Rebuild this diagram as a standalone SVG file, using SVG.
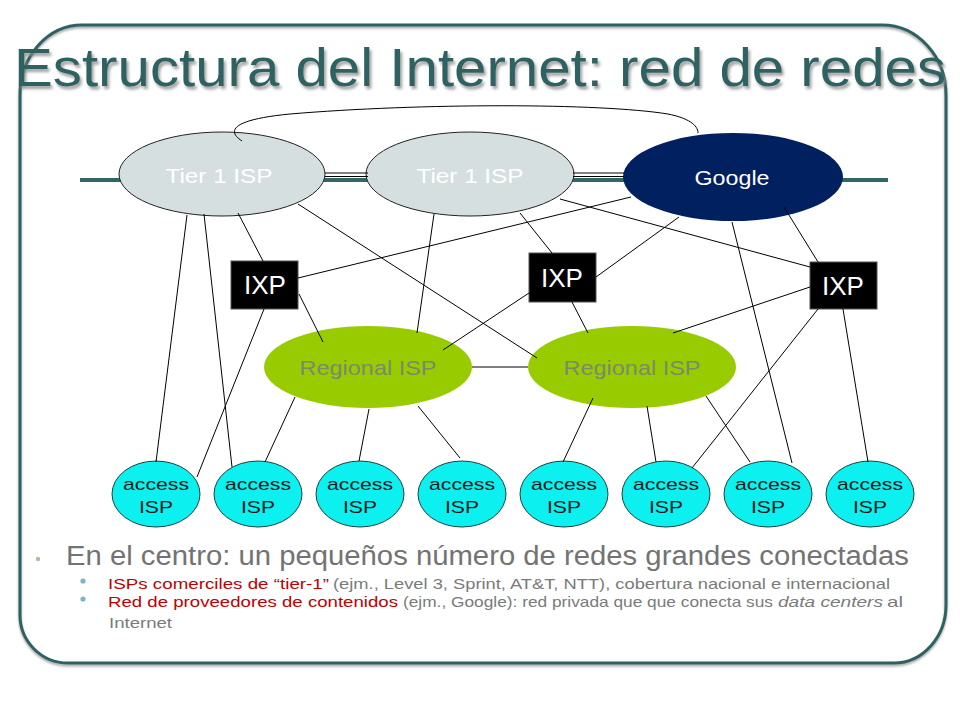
<svg xmlns="http://www.w3.org/2000/svg" width="960" height="720" viewBox="0 0 960 720">
<defs>
<filter id="tsh" x="-5%" y="-20%" width="110%" height="150%">
<feGaussianBlur in="SourceAlpha" stdDeviation="1.6"/>
<feOffset dx="2" dy="3" result="b"/>
<feFlood flood-color="#888888" flood-opacity="0.8"/>
<feComposite in2="b" operator="in"/>
<feMerge><feMergeNode/><feMergeNode in="SourceGraphic"/></feMerge>
</filter>
<filter id="fsh" x="-5%" y="-5%" width="110%" height="110%">
<feGaussianBlur in="SourceAlpha" stdDeviation="1"/>
<feOffset dx="0" dy="2" result="b"/>
<feFlood flood-color="#555" flood-opacity="0.5"/>
<feComposite in2="b" operator="in"/>
<feMerge><feMergeNode/><feMergeNode in="SourceGraphic"/></feMerge>
</filter>
</defs>
<style>
text{font-family:"Liberation Sans",Arial,sans-serif}
.ln{stroke:#000;stroke-width:1;fill:none}
.tier{fill:#D6DFE0;stroke:#222;stroke-width:1}
.tt{fill:#fff;font-size:20px;text-anchor:middle}
.ixp{fill:#000;stroke:#555;stroke-width:1}
.ixt{fill:#fff;font-size:26px;text-anchor:middle}
.reg{fill:#99CC00}
.rt{fill:#7A8A6A;font-size:21px;text-anchor:middle}
.acc{fill:#0DF0F0;stroke:#1E4040;stroke-width:1}
.at{fill:#1A1A1A;font-size:17px;text-anchor:middle}
.red{fill:#C00000;font-size:15px}
.gr{fill:#7A7A7A;font-size:15px}
</style>
<rect width="960" height="720" fill="#fff"/>
<g id="frame" filter="url(#fsh)">
<path d="M 82 25 H 882 A 64 70 0 0 1 946 95 V 605 A 52 58 0 0 1 894 663 H 68 A 48 48 0 0 1 20 615 V 95 A 62 70 0 0 1 82 25 Z" fill="none" stroke="#2F6262" stroke-width="3"/>
</g>
<g id="title">
<text x="14" y="86" font-size="54" fill="#2F6262" textLength="932" lengthAdjust="spacingAndGlyphs" filter="url(#tsh)">Estructura del Internet: red de redes</text>
</g>
<g id="backbone">
<line x1="80" y1="180" x2="888" y2="180" stroke="#336666" stroke-width="4"/>
</g>
<g id="tier1a"><ellipse class="tier" cx="222" cy="174" rx="103" ry="42"/><text class="tt" x="219" y="183" textLength="107" lengthAdjust="spacingAndGlyphs">Tier 1 ISP</text></g>
<g id="tier1b"><ellipse class="tier" cx="470" cy="174" rx="104" ry="42"/><text class="tt" x="470" y="183" textLength="107" lengthAdjust="spacingAndGlyphs">Tier 1 ISP</text></g>
<g id="google"><ellipse cx="733" cy="177" rx="110" ry="44" fill="#012060"/><text x="732" y="185" fill="#fff" font-size="21" text-anchor="middle" textLength="75" lengthAdjust="spacingAndGlyphs">Google</text></g>
<g id="ixp1"><rect class="ixp" x="231" y="261" width="67" height="48"/><text class="ixt" x="265" y="294">IXP</text></g>
<g id="ixp2"><rect class="ixp" x="529" y="253" width="67" height="49"/><text class="ixt" x="562" y="287">IXP</text></g>
<g id="ixp3"><rect class="ixp" x="810" y="262" width="67" height="47"/><text class="ixt" x="843" y="295">IXP</text></g>
<g id="regional1"><ellipse class="reg" cx="368" cy="367" rx="104" ry="41"/><text class="rt" x="368" y="375" textLength="137" lengthAdjust="spacingAndGlyphs">Regional ISP</text></g>
<g id="regional2"><ellipse class="reg" cx="632" cy="367" rx="104" ry="41"/><text class="rt" x="632" y="375" textLength="137" lengthAdjust="spacingAndGlyphs">Regional ISP</text></g>
<g id="access1"><ellipse class="acc" cx="156" cy="494" rx="44" ry="33"/><text class="at" x="156" y="490" textLength="66" lengthAdjust="spacingAndGlyphs">access</text><text class="at" x="156" y="513" textLength="34" lengthAdjust="spacingAndGlyphs">ISP</text></g>
<g id="access2"><ellipse class="acc" cx="258" cy="494" rx="44" ry="33"/><text class="at" x="258" y="490" textLength="66" lengthAdjust="spacingAndGlyphs">access</text><text class="at" x="258" y="513" textLength="34" lengthAdjust="spacingAndGlyphs">ISP</text></g>
<g id="access3"><ellipse class="acc" cx="360" cy="494" rx="44" ry="33"/><text class="at" x="360" y="490" textLength="66" lengthAdjust="spacingAndGlyphs">access</text><text class="at" x="360" y="513" textLength="34" lengthAdjust="spacingAndGlyphs">ISP</text></g>
<g id="access4"><ellipse class="acc" cx="462" cy="494" rx="44" ry="33"/><text class="at" x="462" y="490" textLength="66" lengthAdjust="spacingAndGlyphs">access</text><text class="at" x="462" y="513" textLength="34" lengthAdjust="spacingAndGlyphs">ISP</text></g>
<g id="access5"><ellipse class="acc" cx="564" cy="494" rx="44" ry="33"/><text class="at" x="564" y="490" textLength="66" lengthAdjust="spacingAndGlyphs">access</text><text class="at" x="564" y="513" textLength="34" lengthAdjust="spacingAndGlyphs">ISP</text></g>
<g id="access6"><ellipse class="acc" cx="666" cy="494" rx="44" ry="33"/><text class="at" x="666" y="490" textLength="66" lengthAdjust="spacingAndGlyphs">access</text><text class="at" x="666" y="513" textLength="34" lengthAdjust="spacingAndGlyphs">ISP</text></g>
<g id="access7"><ellipse class="acc" cx="768" cy="494" rx="44" ry="33"/><text class="at" x="768" y="490" textLength="66" lengthAdjust="spacingAndGlyphs">access</text><text class="at" x="768" y="513" textLength="34" lengthAdjust="spacingAndGlyphs">ISP</text></g>
<g id="access8"><ellipse class="acc" cx="870" cy="494" rx="44" ry="33"/><text class="at" x="870" y="490" textLength="66" lengthAdjust="spacingAndGlyphs">access</text><text class="at" x="870" y="513" textLength="34" lengthAdjust="spacingAndGlyphs">ISP</text></g>
<g id="connectors" class="ln">
<path class="ln" d="M 242 141 C 228 132 228 120 290 114 C 420 103 600 103 668 114 C 688 118 698 125 698 133"/>
<line x1="325" y1="173" x2="368" y2="173"/><line x1="325" y1="176.5" x2="368" y2="176.5"/>
<line x1="573" y1="173" x2="624" y2="173"/><line x1="573" y1="176.5" x2="624" y2="176.5"/>
<line x1="187" y1="215" x2="156" y2="462"/>
<line x1="204" y1="214" x2="232" y2="467"/>
<line x1="238" y1="213" x2="263" y2="261"/>
<line x1="298" y1="204" x2="537" y2="358"/>
<line x1="434" y1="214" x2="417" y2="333"/>
<line x1="299" y1="294" x2="323" y2="342"/>
<line x1="264" y1="309" x2="197" y2="477"/>
<line x1="298" y1="278" x2="631" y2="197"/>
<line x1="520" y1="213" x2="552" y2="253"/>
<line x1="560" y1="199" x2="810" y2="267"/>
<line x1="596" y1="277" x2="679" y2="217"/>
<line x1="572" y1="302" x2="588" y2="333"/>
<line x1="529" y1="293" x2="443" y2="350"/>
<line x1="732" y1="222" x2="792" y2="463"/>
<line x1="784" y1="207" x2="818" y2="262"/>
<line x1="810" y1="287" x2="673" y2="333"/>
<line x1="818" y1="309" x2="692" y2="468"/>
<line x1="843" y1="309" x2="868" y2="462"/>
<line x1="472" y1="367" x2="528" y2="367"/>
<line x1="295" y1="397" x2="265" y2="462"/>
<line x1="369" y1="409" x2="359" y2="461"/>
<line x1="418" y1="406" x2="460" y2="458"/>
<line x1="593" y1="398" x2="563" y2="462"/>
<line x1="647" y1="406" x2="656" y2="462"/>
<line x1="706" y1="396" x2="750" y2="462"/>
</g>
<g id="bullets">
<circle cx="38" cy="559" r="2.2" fill="#B8B89C"/>
<text x="66" y="565" font-size="27" fill="#737373" textLength="843" lengthAdjust="spacingAndGlyphs">En el centro: un pequeños número de redes grandes conectadas</text>
<circle cx="83" cy="581" r="2.6" fill="#7FB3C8"/>
<text class="red" x="108" y="589" textLength="221" lengthAdjust="spacingAndGlyphs">ISPs comerciles de “tier-1”</text>
<text class="gr" x="333" y="589" textLength="557" lengthAdjust="spacingAndGlyphs">(ejm., Level 3, Sprint, AT&amp;T, NTT), cobertura nacional e internacional</text>
<circle cx="83" cy="599" r="2.6" fill="#7FB3C8"/>
<text class="red" x="108" y="607" textLength="290" lengthAdjust="spacingAndGlyphs">Red de proveedores de contenidos</text>
<text class="gr" x="403" y="607" textLength="370" lengthAdjust="spacingAndGlyphs">(ejm., Google): red privada que que conecta sus</text>
<text class="gr" x="778" y="607" font-style="italic" textLength="105" lengthAdjust="spacingAndGlyphs">data centers</text>
<text class="gr" x="887" y="607" textLength="16" lengthAdjust="spacingAndGlyphs">al</text>
<text class="gr" x="109" y="628" textLength="63" lengthAdjust="spacingAndGlyphs">Internet</text>
</g>
</svg>
